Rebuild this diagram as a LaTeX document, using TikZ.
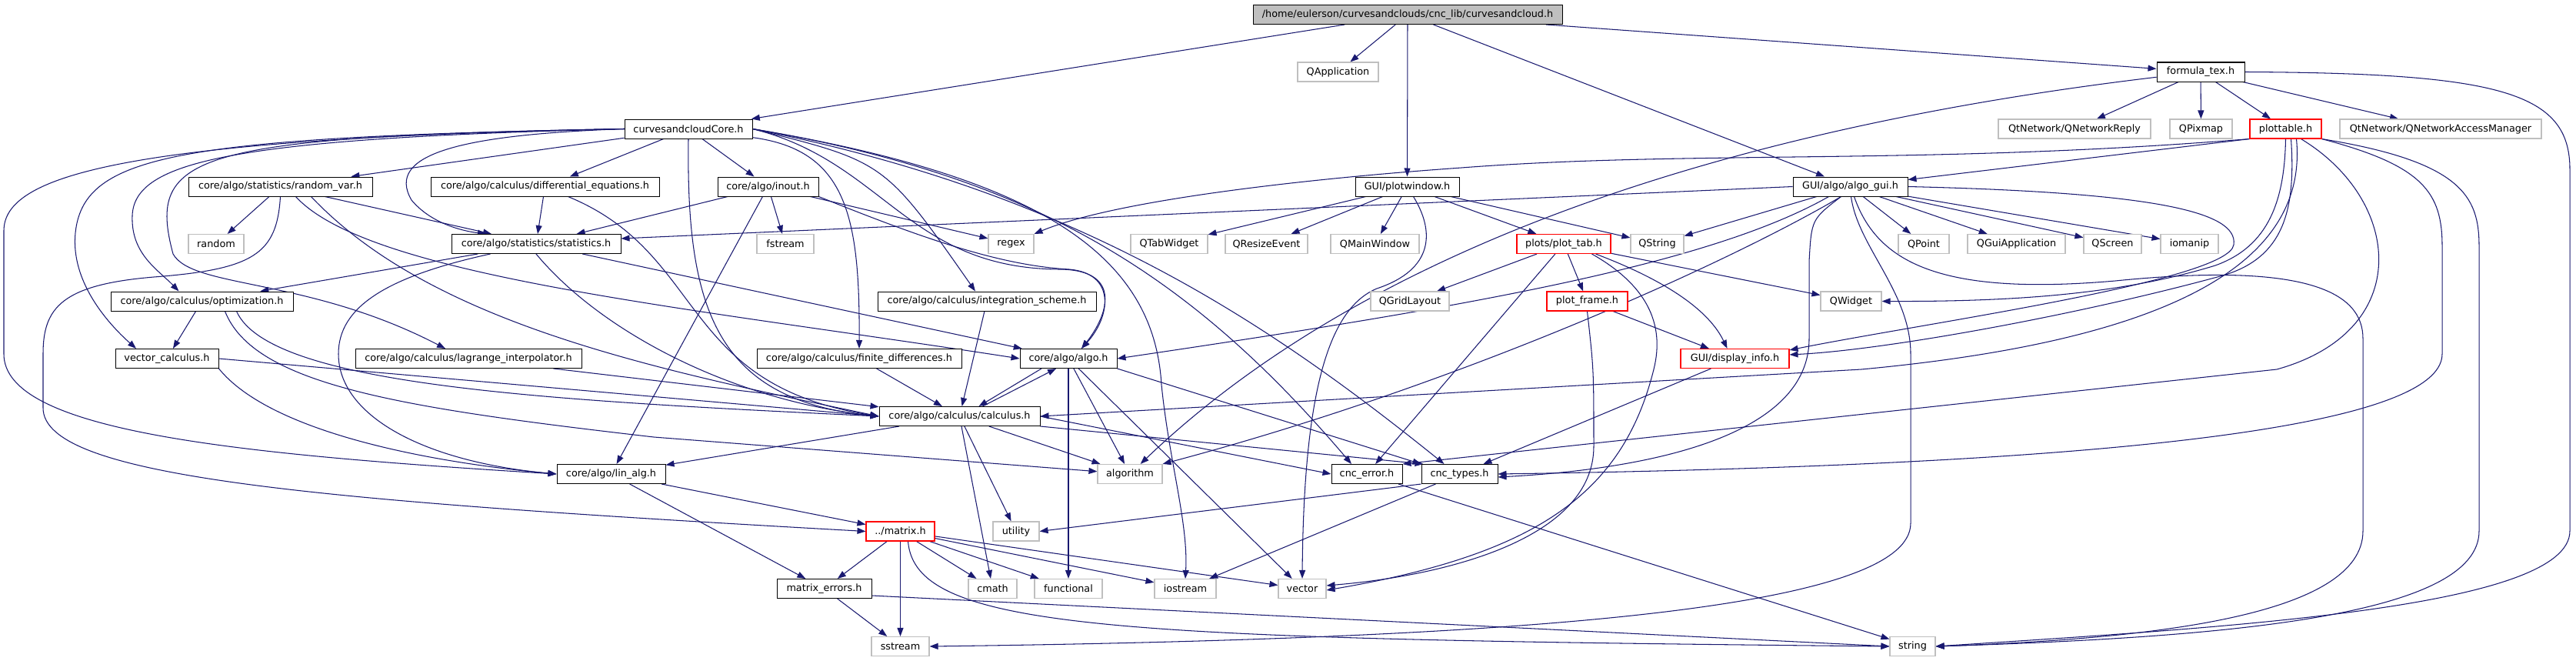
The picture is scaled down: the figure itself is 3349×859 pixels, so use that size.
\documentclass[tikz,border=0pt]{standalone}
\usepackage{fontspec}
\setmainfont{DejaVu Sans}
\usepackage{tikz}
\usetikzlibrary{arrows.meta,backgrounds}
\definecolor{depBlue}{RGB}{25,25,112}
\definecolor{depGray}{RGB}{191,191,191}
\definecolor{depRed}{RGB}{255,0,0}

\begin{document}
\begin{tikzpicture}[
    x=1pt, y=-1pt,
    every node/.style={font=\fontsize{12.8}{15}\selectfont, inner sep=0pt, minimum height=25pt},
    mainfile/.style={rectangle, draw=black, line width=1pt, fill=depGray},
    header/.style={rectangle, draw=black, line width=1pt, fill=white},
    sysheader/.style={rectangle, draw=depGray, line width=1.1pt, fill=white},
    cutheader/.style={rectangle, draw=depRed, line width=1.1pt, fill=white},
    dep/.style={draw=depBlue, line width=1.05pt, -{Triangle[length=11pt,width=8pt]}}
]
  \useasboundingbox (0,0) rectangle (3349,859);

  \node[mainfile, minimum width=402pt] (cnc) at (1830,19) {/home/eulerson/curvesandclouds/cnc\_lib/curvesandcloud.h};
  \node[sysheader, minimum width=105pt] (qapp) at (1739.5,93.5) {QApplication};
  \node[header, minimum width=114pt] (formula) at (2861,93.5) {formula\_tex.h};
  \node[header, minimum width=166pt] (core) at (895,167.5) {curvesandcloudCore.h};
  \node[sysheader, minimum width=198pt] (qnreply) at (2697,167.5) {QtNetwork/QNetworkReply};
  \node[sysheader, minimum width=81pt] (qpixmap) at (2861.5,167.5) {QPixmap};
  \node[cutheader, minimum width=93pt] (plottable) at (2971.5,167.5) {plottable.h};
  \node[sysheader, minimum width=262pt] (qnam) at (3173,167.5) {QtNetwork/QNetworkAccessManager};
  \node[header, minimum width=239pt] (randvar) at (364.5,242.5) {core/algo/statistics/random\_var.h};
  \node[header, minimum width=297pt] (diffeq) at (708.5,242.5) {core/algo/calculus/differential\_equations.h};
  \node[header, minimum width=131pt] (inout) at (998.5,242.5) {core/algo/inout.h};
  \node[header, minimum width=135pt] (plotwin) at (1829.5,242.5) {GUI/plotwindow.h};
  \node[header, minimum width=149pt] (algogui) at (2405.5,242.5) {GUI/algo/algo\_gui.h};
  \node[sysheader, minimum width=72pt] (random) at (281,317) {random};
  \node[header, minimum width=220pt] (stats) at (697,317) {core/algo/statistics/statistics.h};
  \node[sysheader, minimum width=74pt] (fstream) at (1021,317) {fstream};
  \node[sysheader, minimum width=59pt] (regex) at (1314.5,317) {regex};
  \node[sysheader, minimum width=100pt] (qtab) at (1520,317) {QTabWidget};
  \node[sysheader, minimum width=107pt] (qresize) at (1646.5,317) {QResizeEvent};
  \node[sysheader, minimum width=115pt] (qmain) at (1787.5,317) {QMainWindow};
  \node[cutheader, minimum width=122pt] (plottab) at (2033,317) {plots/plot\_tab.h};
  \node[sysheader, minimum width=69pt] (qstring) at (2154.5,317) {QString};
  \node[sysheader, minimum width=66pt] (qpoint) at (2501,317) {QPoint};
  \node[sysheader, minimum width=127pt] (qguiapp) at (2621.5,317) {QGuiApplication};
  \node[sysheader, minimum width=75pt] (qscreen) at (2746.5,317) {QScreen};
  \node[sysheader, minimum width=75pt] (iomanip) at (2846.5,317) {iomanip};
  \node[header, minimum width=237pt] (optim) at (262.5,391.5) {core/algo/calculus/optimization.h};
  \node[header, minimum width=284pt] (integ) at (1283,391.5) {core/algo/calculus/integration\_scheme.h};
  \node[sysheader, minimum width=102pt] (qgrid) at (1833,391.5) {QGridLayout};
  \node[cutheader, minimum width=105pt] (plotframe) at (2063.5,391.5) {plot\_frame.h};
  \node[sysheader, minimum width=79pt] (qwidget) at (2406.5,391.5) {QWidget};
  \node[header, minimum width=134pt] (veccalc) at (217,466) {vector\_calculus.h};
  \node[header, minimum width=294pt] (lagrange) at (609,466) {core/algo/calculus/lagrange\_interpolator.h};
  \node[header, minimum width=266pt] (finite) at (1117,466) {core/algo/calculus/finite\_differences.h};
  \node[header, minimum width=126pt] (algo) at (1389,466) {core/algo/algo.h};
  \node[cutheader, minimum width=141pt] (dispinfo) at (2255.5,466) {GUI/display\_info.h};
  \node[header, minimum width=209pt] (calculus) at (1247.5,541) {core/algo/calculus/calculus.h};
  \node[header, minimum width=141pt] (linalg) at (794.5,616) {core/algo/lin\_alg.h};
  \node[sysheader, minimum width=84pt] (algorithm) at (1469,616) {algorithm};
  \node[header, minimum width=92pt] (cncerror) at (1777,616) {cnc\_error.h};
  \node[header, minimum width=99pt] (cnctypes) at (1897.5,616) {cnc\_types.h};
  \node[cutheader, minimum width=89pt] (matrix) at (1170.5,690.5) {../matrix.h};
  \node[sysheader, minimum width=60pt] (utility) at (1321,690.5) {utility};
  \node[header, minimum width=123pt] (matrixerr) at (1071.5,765) {matrix\_errors.h};
  \node[sysheader, minimum width=63pt] (cmath) at (1290.5,765) {cmath};
  \node[sysheader, minimum width=88pt] (functional) at (1389,765) {functional};
  \node[sysheader, minimum width=80pt] (iostream) at (1541,765) {iostream};
  \node[sysheader, minimum width=62pt] (vector) at (1693,765) {vector};
  \node[sysheader, minimum width=75pt] (sstream) at (1170.5,840) {sstream};
  \node[sysheader, minimum width=59pt] (string) at (2486.5,840) {string};

  \begin{scope}[on background layer]
    \fill[white] (0,0) rectangle (3349,859);

    \draw[dep] (cnc) -- (core);
    \draw[dep] (cnc) -- (qapp);
    \draw[dep] (cnc) -- (plotwin);
    \draw[dep] (cnc) -- (algogui);
    \draw[dep] (cnc) -- (formula);

    \draw[dep] (formula) -- (qnreply);
    \draw[dep] (formula) -- (qpixmap);
    \draw[dep] (formula) -- (plottable);
    \draw[dep] (formula) -- (qnam);
    \draw[dep] (formula) .. controls (2300,160) and (1800,300) .. (algorithm);
    \draw[dep] (formula.east) .. controls (3250,95) and (3341,120) .. (3341,220) -- (3341,690) .. controls (3341,790) and (2900,815) .. (string.east);

    \draw[dep] (plottable.south west) -- ([yshift=-4pt]algogui.north east);
    \draw[dep] (plottable.south west) .. controls (2500,215) and (2200,195) .. (1900,218) .. controls (1700,232) and (1450,260) .. (regex.north east);
    \draw[dep] (plottable.south) .. controls (2970,260) and (2950,320) .. (2880,345) .. controls (2750,385) and (2600,392) .. (qwidget.east);
    \draw[dep] ([xshift=7pt]plottable.south) .. controls (2985,275) and (2968,335) .. (2890,358) .. controls (2700,410) and (2450,455) .. ([yshift=-8pt]dispinfo.north east);
    \draw[dep] ([xshift=14pt]plottable.south) .. controls (3000,330) and (2850,440) .. (2420,480) -- (calculus.east);
    \draw[dep] ([xshift=20pt]plottable.south) .. controls (3123,260) and (3140,430) .. (2960,480) -- (cncerror.north east);
    \draw[dep] (plottable.south east) .. controls (3150,215) and (3175,250) .. (3175,320) -- (3175,460) .. controls (3175,560) and (2700,605) .. (cnctypes.east);
    \draw[dep] (plottable.south east) .. controls (3200,210) and (3223,255) .. (3223,320) -- (3223,690) .. controls (3223,800) and (2900,828) .. (string.east);

    \draw[dep] (algogui.west) -- ([yshift=7pt]stats.east);
    \draw[dep] (algogui) -- (qstring);
    \draw[dep] (algogui) -- (qpoint);
    \draw[dep] (algogui) -- (qguiapp);
    \draw[dep] (algogui) -- (qscreen);
    \draw[dep] (algogui) -- (iomanip);
    \draw[dep] ([xshift=-28pt]algogui.south) .. controls (2220,345) and (1900,400) .. (algo.east);
    \draw[dep] ([xshift=-12pt]algogui.south) .. controls (2250,340) and (1900,500) .. (algorithm.north east);
    \draw[dep] ([xshift=-12pt]algogui.south) .. controls (2355,285) .. (2352,340) -- (2352,440) .. controls (2352,580) and (2100,612) .. ([yshift=-4pt]cnctypes.east);
    \draw[dep] ([xshift=1pt]algogui.south) .. controls (2415,320) and (2484,380) .. (2484,460) -- (2484,680) .. controls (2484,790) and (2000,830) .. (sstream.east);
    \draw[dep] ([xshift=5pt]algogui.south) .. controls (2440,340) and (2520,385) .. (2750,365) .. controls (3000,340) and (3072,380) .. (3072,440) -- (3072,690) .. controls (3072,800) and (2800,830) .. (string.east);
    \draw[dep] (algogui.east) .. controls (2800,250) and (2910,275) .. (2904,318) .. controls (2898,365) and (2500,420) .. ([yshift=-2pt]dispinfo.north east);

    \draw[dep] (plotwin) -- (qtab);
    \draw[dep] (plotwin) -- (qresize);
    \draw[dep] (plotwin) -- (qmain);
    \draw[dep] (plotwin) -- (plottab);
    \draw[dep] (plotwin) -- (qstring);
    \draw[dep] ([xshift=8pt]plotwin.south) .. controls (1865,300) and (1865,350) .. (1790,375) .. controls (1730,400) and (1695,500) .. (vector.north);

    \draw[dep] (plottab) -- (qgrid);
    \draw[dep] (plottab) -- (plotframe);
    \draw[dep] (plottab) -- (qwidget);
    \draw[dep] (plottab) -- (cncerror);
    \draw[dep] ([xshift=-25pt]plottab.south east) .. controls (2140,370) and (2165,420) .. (2150,480) .. controls (2110,640) and (2000,720) .. ([yshift=-2pt]vector.east);
    \draw[dep] ([xshift=-20pt]plottab.south east) .. controls (2180,370) and (2225,410) .. ([xshift=-10pt]dispinfo.north);

    \draw[dep] (plotframe) -- (dispinfo);
    \draw[dep] (plotframe.south) .. controls (2072,480) .. (2072,580) .. controls (2072,700) and (1880,748) .. ([yshift=4pt]vector.east);
    \draw[dep] (dispinfo) -- (cnctypes);

    \draw[dep] (core) -- (randvar);
    \draw[dep] (core) -- (diffeq);
    \draw[dep] (core) -- (inout);
    \draw[dep] (core.west) .. controls (600,175) and (500,200) .. (535,260) .. controls (560,290) and (600,300) .. ([xshift=-65pt]stats.north);
    \draw[dep] (core.west) .. controls (300,180) and (175,210) .. (172,280) .. controls (170,330) and (205,350) .. ([xshift=-30pt]optim.north);
    \draw[dep] (core.west) .. controls (250,178) and (120,200) .. (100,290) .. controls (85,360) and (140,420) .. ([xshift=-40pt]veccalc.north);
    \draw[dep] (core.west) .. controls (150,180) and (5,230) .. (5,300) -- (5,460) .. controls (5,560) and (300,590) .. (linalg.west);
    \draw[dep] (core.west) .. controls (250,178) and (190,200) .. (225,330) .. controls (250,375) and (400,360) .. ([xshift=-30pt]lagrange.north);
    \draw[dep] (core.south) .. controls (892,400) and (930,520) .. (calculus.west);
    \draw[dep] (core) .. controls (1100,195) and (1118,280) .. (finite.north);
    \draw[dep] (core.east) .. controls (1150,210) .. ([xshift=-15pt]integ.north);
    \draw[dep] (core.east) .. controls (1150,210) and (1180,350) .. (1380,350) .. controls (1460,352) and (1440,410) .. ([xshift=17pt]algo.north);
    \draw[dep] (core.east) .. controls (1350,230) and (1500,330) .. (1510,500) .. controls (1520,600) and (1545,680) .. (iostream.north);
    \draw[dep] (core.east) .. controls (1350,230) and (1550,360) .. ([xshift=-20pt]cncerror.north);
    \draw[dep] (core.east) .. controls (1400,250) and (1650,420) .. ([xshift=-20pt]cnctypes.north);

    \draw[dep] (randvar) -- (random);
    \draw[dep] (randvar) -- (stats);
    \draw[dep] (randvar.south) .. controls (360,330) and (330,350) .. (200,360) .. controls (80,370) and (56,400) .. (56,460) -- (56,530) .. controls (56,620) and (400,650) .. (matrix.west);
    \draw[dep] ([xshift=20pt]randvar.south) .. controls (480,360) and (900,400) .. (algo.west);
    \draw[dep] ([xshift=40pt]randvar.south) .. controls (560,420) and (850,480) .. (calculus.west);

    \draw[dep] (diffeq) -- (stats);
    \draw[dep] ([xshift=30pt]diffeq.south) .. controls (920,330) and (880,500) .. (calculus.west);

    \draw[dep] (inout) -- (stats);
    \draw[dep] (inout) -- (fstream);
    \draw[dep] (inout) -- (regex);
    \draw[dep] (inout) -- (linalg);
    \draw[dep] (inout.south east) .. controls (1200,310) and (1300,345) .. (1390,350) .. controls (1450,355) and (1445,410) .. ([xshift=17pt]algo.north);

    \draw[dep] (stats) -- (optim);
    \draw[dep] (stats) .. controls (500,360) and (440,400) .. (440,460) .. controls (440,540) and (550,600) .. (linalg.west);
    \draw[dep] (stats.south) .. controls (780,430) and (950,520) .. (calculus.west);
    \draw[dep] (stats) -- (algo);

    \draw[dep] (optim) -- (veccalc);
    \draw[dep] ([xshift=30pt]optim.south) .. controls (330,500) and (520,530) .. (850,568) -- (algorithm);
    \draw[dep] ([xshift=45pt]optim.south) .. controls (350,500) and (700,520) .. (calculus.west);

    \draw[dep] (veccalc.east) -- (calculus.west);
    \draw[dep] (veccalc.south east) .. controls (350,560) and (550,600) .. (linalg.west);
    \draw[dep] (lagrange) -- (calculus);
    \draw[dep] (finite) -- (calculus);
    \draw[dep] (integ) -- (calculus);

    \draw[dep] ([xshift=-35pt]algo.south) -- ([xshift=25pt]calculus.north);
    \draw[dep] ([xshift=30pt]calculus.north) -- ([xshift=-16pt]algo.south);
    \draw[dep] (algo) -- (algorithm);
    \draw[dep] (algo) -- (functional);
    \draw[dep] (algo) -- (vector);
    \draw[dep] (algo.south east) -- (cnctypes.north west);

    \draw[dep] (calculus) -- (linalg);
    \draw[dep] (calculus) -- (algorithm);
    \draw[dep] (calculus) -- (utility);
    \draw[dep] (calculus) -- (cmath);
    \draw[dep] (calculus.east) -- (cncerror.west);
    \draw[dep] (calculus.south east) -- ([xshift=3pt]cnctypes.north west);

    \draw[dep] (linalg) -- (matrix);
    \draw[dep] (linalg) -- (matrixerr);

    \draw[dep] (matrix) -- (matrixerr);
    \draw[dep] (matrix) -- (sstream);
    \draw[dep] (matrix) -- (cmath);
    \draw[dep] (matrix) -- (functional);
    \draw[dep] (matrix) -- (iostream);
    \draw[dep] (matrix) -- (vector);
    \draw[dep] ([xshift=10pt]matrix.south) .. controls (1190,820) and (1450,830) .. (string.west);

    \draw[dep] (matrixerr) -- (sstream);
    \draw[dep] ([yshift=-9pt]matrixerr.east) -- (string.west);
    \draw[dep] (cncerror) -- (string);
    \draw[dep] (cnctypes.south west) -- (utility.east);
    \draw[dep] (cnctypes) -- (iostream);
  \end{scope}
\end{tikzpicture}
\end{document}
